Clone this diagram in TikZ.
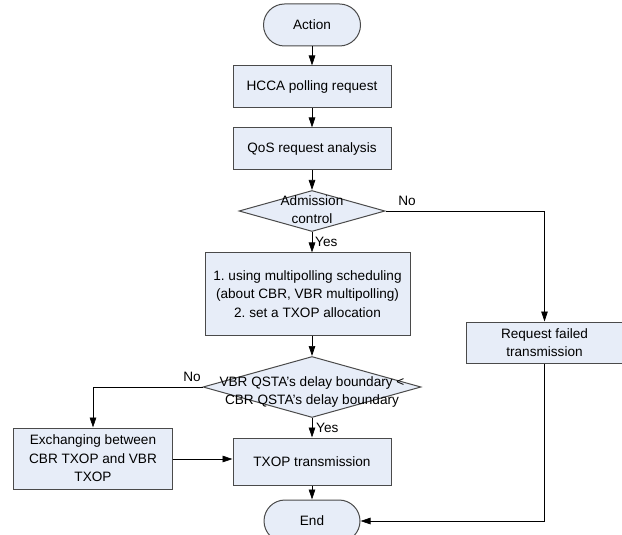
\documentclass[tikz,border=0pt]{standalone}
\usepackage{fontspec}
\setmainfont{Liberation Sans}
\usetikzlibrary{arrows.meta,shapes.geometric}
\definecolor{boxfill}{HTML}{E7EDF8}
\definecolor{boxline}{HTML}{4A4A4A}
\frenchspacing
\begin{document}
\begin{tikzpicture}[x=1bp,y=-1bp,
  font=\fontsize{13.6bp}{18.5bp}\selectfont,
  base/.style={draw=boxline,line width=1bp,fill=boxfill,inner sep=0pt,align=center},
  proc/.style={base,rectangle},
  term/.style={base,rectangle,rounded corners=21bp,minimum width=97bp,minimum height=42bp},
  dec/.style={base,diamond,aspect=3},
  conn/.style={line width=0.7bp,-{Triangle[length=10bp,width=6.5bp]}},
  lbl/.style={inner sep=1bp}]
\useasboundingbox (0,0) rectangle (622,535);
\node[term] (action) at (312,25) {Action};
\node[proc,minimum width=158bp,minimum height=42bp] (hcca) at (312,87) {HCCA polling request};
\node[proc,minimum width=158bp,minimum height=42bp] (qos) at (312,149) {QoS request analysis};
\node[dec,minimum width=146bp,minimum height=41bp] (adm) at (312,211) {};
\node[align=center,inner sep=0pt] (admt) at (312,209.5) {Admission\\control};
\node[proc,minimum width=205bp,minimum height=82bp] (multi) at (307.5,294) {1. using multipolling scheduling\\(about CBR, VBR multipolling)\\2. set a TXOP allocation};
\node[dec,minimum width=218bp,minimum height=61bp] (dia) at (312,387) {};
\node[align=center,inner sep=0pt] (diat) at (312,392) {VBR QSTA’s delay boundary <\\CBR QSTA’s delay boundary};
\node[proc,minimum width=158bp,minimum height=61bp] (exch) at (93,458.5) {Exchanging between\\CBR TXOP and VBR\\TXOP};
\node[proc,minimum width=158bp,minimum height=47bp] (txop) at (312,461.5) {TXOP transmission};
\node[term,minimum width=96bp] (end) at (312,521) {End};
\node[proc,minimum width=157bp,minimum height=41bp] (fail) at (544.5,342.5) {Request failed\\transmission};

\draw[conn] (action) -- (hcca);
\draw[conn] (hcca) -- (qos);
\draw[conn] (qos) -- (adm);
\draw[conn] (adm.south) -- (adm.south |- multi.north);
\draw[conn] (multi.south -| dia.north) -- (dia.north);
\draw[conn] (dia.south) -- (txop.north);
\draw[conn] (dia.west) -| (exch.north);
\draw[conn] (exch.east |- 0,459) -- (txop.west |- 0,459);
\draw[conn] (txop) -- (end);
\draw[conn] (adm.east) -| (fail.north);
\draw[conn] (fail.south) |- (end.east);

\node[lbl,anchor=west] (yes1) at (314,242) {Yes};
\node[lbl,anchor=west] (yes2) at (315,428) {Yes};
\node[lbl] (no1) at (407,201) {No};
\node[lbl] (no2) at (192,377) {No};
\end{tikzpicture}
\end{document}
